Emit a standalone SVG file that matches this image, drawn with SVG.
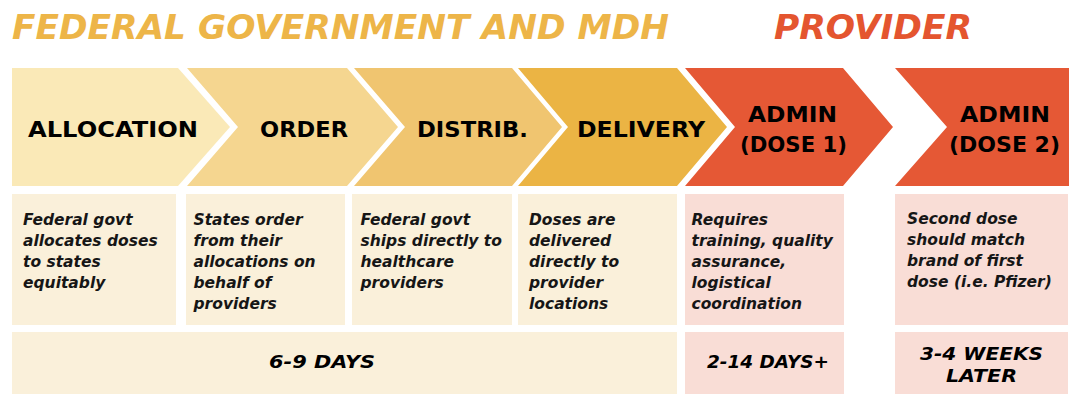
<svg xmlns="http://www.w3.org/2000/svg" width="1069" height="394" viewBox="0 0 1069 394">
<style>
.title{font-family:"DejaVu Sans","Liberation Sans",sans-serif;font-weight:bold;font-style:italic;font-size:34px}
.lbl{font-family:"DejaVu Sans","Liberation Sans",sans-serif;font-weight:bold;font-size:21px;fill:#000}
.desc{font-family:"DejaVu Sans","Liberation Sans",sans-serif;font-weight:bold;font-style:italic;font-size:15.5px;fill:#161616}
.time{font-family:"DejaVu Sans","Liberation Sans",sans-serif;font-weight:bold;font-style:italic;font-size:18.5px;fill:#000}
.ybox{fill:#FAF0DA}
.pbox{fill:#F9DDD6}
.admin{fill:#E55835}
</style>
<rect width="1069" height="394" fill="#fff"/>
<g id="headings">
<text class="title" x="12" y="39" fill="#EDB548" textLength="657" lengthAdjust="spacingAndGlyphs">FEDERAL GOVERNMENT AND MDH</text>
<text class="title" x="774" y="39" fill="#E4552F" textLength="198" lengthAdjust="spacingAndGlyphs">PROVIDER</text>
</g>
<g id="allocation">
<polygon points="12,68 178,68 230,127 178,186 12,186" fill="#FAE9B7"/>
<text class="lbl" x="28" y="137" textLength="170" lengthAdjust="spacingAndGlyphs">ALLOCATION</text>
<rect class="ybox" x="12" y="194" width="164" height="131"/>
<text class="desc" x="23" y="224.5"><tspan x="23">Federal govt</tspan><tspan x="23" dy="21">allocates doses</tspan><tspan x="23" dy="21">to states</tspan><tspan x="23" dy="21">equitably</tspan></text>
</g>
<g id="order">
<polygon points="187,68 347,68 398,127 347,186 187,186 238,127" fill="#F5D690"/>
<text class="lbl" x="260" y="137" textLength="88" lengthAdjust="spacingAndGlyphs">ORDER</text>
<rect class="ybox" x="186" y="194" width="159" height="131"/>
<text class="desc" x="193.5" y="224.5"><tspan x="193.5">States order</tspan><tspan x="193.5" dy="21">from their</tspan><tspan x="193.5" dy="21">allocations on</tspan><tspan x="193.5" dy="21">behalf of</tspan><tspan x="193.5" dy="21">providers</tspan></text>
</g>
<g id="distrib">
<polygon points="354,68 512,68 562,127 512,186 354,186 405,127" fill="#F0C570"/>
<text class="lbl" x="417" y="137" textLength="111" lengthAdjust="spacingAndGlyphs">DISTRIB.</text>
<rect class="ybox" x="352" y="194" width="160" height="131"/>
<text class="desc" x="360.5" y="224.5"><tspan x="360.5">Federal govt</tspan><tspan x="360.5" dy="21">ships directly to</tspan><tspan x="360.5" dy="21">healthcare</tspan><tspan x="360.5" dy="21">providers</tspan></text>
</g>
<g id="delivery">
<polygon points="518,68 677,68 727,127 677,186 518,186 568,127" fill="#EBB444"/>
<text class="lbl" x="577" y="137" textLength="128" lengthAdjust="spacingAndGlyphs">DELIVERY</text>
<rect class="ybox" x="518" y="194" width="159" height="131"/>
<text class="desc" x="529" y="224.5"><tspan x="529">Doses are</tspan><tspan x="529" dy="21">delivered</tspan><tspan x="529" dy="21">directly to</tspan><tspan x="529" dy="21">provider</tspan><tspan x="529" dy="21">locations</tspan></text>
</g>
<g id="admin-dose-1">
<polygon class="admin" points="685,68 843,68 893,127 843,186 685,186 735,127"/>
<text class="lbl" x="748" y="121.7" textLength="89" lengthAdjust="spacingAndGlyphs">ADMIN</text>
<text class="lbl" x="740" y="151.7" textLength="107" lengthAdjust="spacingAndGlyphs">(DOSE 1)</text>
<rect class="pbox" x="685" y="194" width="159" height="131"/>
<text class="desc" x="691.5" y="224.5"><tspan x="691.5">Requires</tspan><tspan x="691.5" dy="21">training, quality</tspan><tspan x="691.5" dy="21">assurance,</tspan><tspan x="691.5" dy="21">logistical</tspan><tspan x="691.5" dy="21">coordination</tspan></text>
</g>
<g id="admin-dose-2">
<polygon class="admin" points="895,68 1069,68 1069,186 895,186 947,127"/>
<text class="lbl" x="960" y="121.7" textLength="90" lengthAdjust="spacingAndGlyphs">ADMIN</text>
<text class="lbl" x="949" y="151.7" textLength="111" lengthAdjust="spacingAndGlyphs">(DOSE 2)</text>
<rect class="pbox" x="895" y="194" width="173" height="131"/>
<text class="desc" x="907" y="223.5"><tspan x="907">Second dose</tspan><tspan x="907" dy="21.3">should match</tspan><tspan x="907" dy="21.3">brand of first</tspan><tspan x="907" dy="21.3">dose (i.e. Pfizer)</tspan></text>
</g>
<g id="time-federal">
<rect class="ybox" x="12" y="332" width="665" height="62"/>
<text class="time" x="269" y="368" textLength="106" lengthAdjust="spacingAndGlyphs">6-9 DAYS</text>
</g>
<g id="time-dose-1">
<rect class="pbox" x="685" y="332" width="159" height="62"/>
<text class="time" x="707" y="368" textLength="122" lengthAdjust="spacingAndGlyphs">2-14 DAYS+</text>
</g>
<g id="time-dose-2">
<rect class="pbox" x="895" y="332" width="173" height="62"/>
<text class="time" x="920" y="360" textLength="123" lengthAdjust="spacingAndGlyphs">3-4 WEEKS</text>
<text class="time" x="946" y="381.7" textLength="71" lengthAdjust="spacingAndGlyphs">LATER</text>
</g>
</svg>
